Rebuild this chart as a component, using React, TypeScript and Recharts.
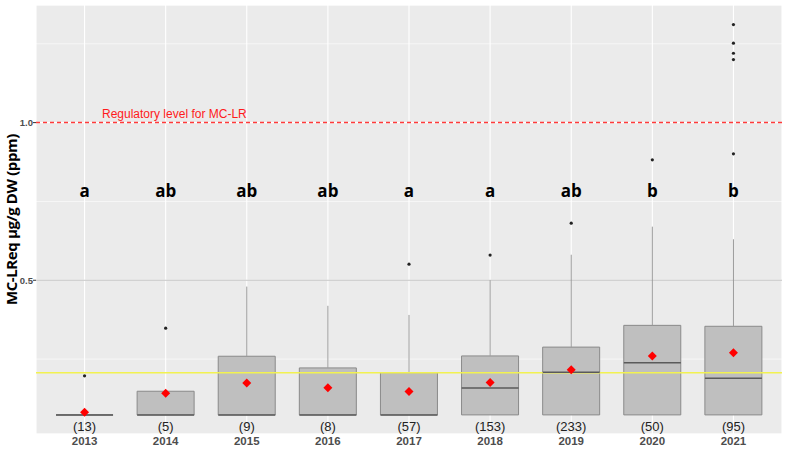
import React from "react";
import {
  ComposedChart,
  Bar,
  Scatter,
  ErrorBar,
  XAxis,
  YAxis,
  CartesianGrid,
  ReferenceLine,
} from "recharts";

const years = ["2013", "2014", "2015", "2016", "2017", "2018", "2019", "2020", "2021"];
const counts = [13, 5, 9, 8, 57, 153, 233, 50, 95];
const letters = ["a", "ab", "ab", "ab", "a", "a", "ab", "b", "b"];
const q1 = [0.073, 0.073, 0.073, 0.073, 0.073, 0.073, 0.073, 0.073, 0.073];
const medians = [0.073, 0.073, 0.073, 0.073, 0.073, 0.158, 0.208, 0.238, 0.189];
const q3 = [0.073, 0.148, 0.259, 0.222, 0.207, 0.26, 0.288, 0.357, 0.354];
const whiskerHigh = [0.073, 0.148, 0.48, 0.419, 0.39, 0.5, 0.581, 0.67, 0.63];
const means = [0.081, 0.1415, 0.174, 0.159, 0.147, 0.176, 0.216, 0.26, 0.27];

const outlierYears = ["2013", "2014", "2017", "2018", "2019", "2020", "2021", "2021", "2021", "2021", "2021"];
const outlierValues = [0.197, 0.348, 0.551, 0.58, 0.681, 0.882, 0.901, 1.2, 1.22, 1.252, 1.311];

const yDomain = [0.0124, 1.373];
const yTicks = [0.5, 1.0];
const minorTicks = [0.25, 0.75, 1.25];
const regulatoryLevel = 1.0;
const referenceLevel = 0.207;
const letterY = 0.786;
const countY = 0.035;

const BOX_W = 57;

const rows = years.map((year, i) => ({
  year,
  n: `(${counts[i]})`,
  letter: letters[i],
  q1: q1[i],
  med: medians[i],
  q3: q3[i],
  hi: whiskerHigh[i],
  mean: means[i],
  letterY,
  countY,
}));

const outliers = outlierYears.map((year, i) => ({ year, value: outlierValues[i] }));

const BoxShape = (props: any) => {
  const { x, y, width, height } = props;
  const h = Math.max(height || 0, 0);
  return (
    <path
      d={`M${x},${y}h${width}v${h}h${-width}Z`}
      fill="#bfbfbf"
      stroke="#8a8a8a"
      strokeWidth={1}
    />
  );
};

const MedianShape = (props: any) => (
  <line x1={props.cx - BOX_W / 2} x2={props.cx + BOX_W / 2} y1={props.cy} y2={props.cy} stroke="#5a5a5a" strokeWidth={1.5} />
);

const MeanShape = (props: any) => {
  const { cx, cy } = props;
  const s = 4.5;
  return <path d={`M${cx},${cy - s}L${cx + s},${cy}L${cx},${cy + s}L${cx - s},${cy}Z`} fill="#ff0000" />;
};

const OutlierShape = (props: any) => <circle cx={props.cx} cy={props.cy} r={1.6} fill="#222" />;

const LetterShape = (props: any) => (
  <text x={props.cx} y={props.cy} textAnchor="middle" dominantBaseline="central" fontFamily="Open Sans" fontWeight={700} fontSize={17} fill="#000">
    {props.payload.letter}
  </text>
);

const CountShape = (props: any) => (
  <text x={props.cx} y={props.cy} textAnchor="middle" dominantBaseline="central" fontFamily="Liberation Sans" fontSize={13} fill="#222">
    {props.payload.n}
  </text>
);

const Nothing = () => null;

export default function App() {
  return (
    <div style={{ position: "absolute", left: 0, top: 0, background: "#fff" }}>
      <ComposedChart width={786} height={452} data={rows} margin={{ top: 5, right: 4, bottom: 0, left: 0 }}>
        <CartesianGrid fill="#ebebeb" stroke="#ffffff" strokeWidth={0.6} vertical={false} yAxisId="minor" />
        <CartesianGrid stroke="#ffffff" strokeWidth={1.1} fill="none" />
        <XAxis
          dataKey="year"
          allowDuplicatedCategory={false}
          padding={{ left: 8, right: 8 }}
          axisLine={false}
          tickLine={false}
          tickSize={0}
          tickMargin={3}
          height={18}
          tick={{ fontFamily: "Liberation Sans", fontWeight: 700, fontSize: 11.5, fill: "#4d4d4d" }}
        />
        <YAxis yAxisId="minor" type="number" domain={yDomain} allowDataOverflow ticks={minorTicks} hide />
        <YAxis
          type="number"
          domain={yDomain}
          allowDataOverflow
          ticks={yTicks}
          tickFormatter={(v: number) => v.toFixed(1)}
          width={36}
          axisLine={false}
          tickSize={3}
          tickMargin={0}
          tickLine={{ stroke: "#333" }}
          tick={{ fontFamily: "Liberation Sans", fontWeight: 700, fontSize: 9.5, fill: "#4d4d4d" }}
          label={{
            content: (p: any) => {
              const vb = p.viewBox;
              const cy = vb.y + vb.height / 2;
              return (
                <text x={11} y={cy} transform={`rotate(-90 11 ${cy})`} textAnchor="middle" dominantBaseline="central" fontFamily="Open Sans" fontWeight={700} fontSize={15} letterSpacing={-0.4} fill="#000">
                  MC-LReq µg/g DW (ppm)
                </text>
              );
            },
          }}
        />
        <ReferenceLine y={0.5} stroke="#c4c4c4" strokeWidth={1} />
        <Scatter dataKey="q3" shape={<Nothing />} isAnimationActive={false}>
          <ErrorBar dataKey={(d: any) => [0, d.hi - d.q3]} direction="y" width={0} stroke="#9a9a9a" strokeWidth={1} isAnimationActive={false} />
        </Scatter>
        <Bar dataKey={(d: any) => [d.q1, d.q3]} barSize={BOX_W} shape={<BoxShape />} isAnimationActive={false} />
        <Scatter dataKey="med" shape={<MedianShape />} isAnimationActive={false} />
        <Scatter data={outliers} dataKey="value" shape={<OutlierShape />} isAnimationActive={false} />
        <Scatter dataKey="mean" shape={<MeanShape />} isAnimationActive={false} />
        <Scatter dataKey="letterY" shape={<LetterShape />} isAnimationActive={false} />
        <Scatter dataKey="countY" shape={<CountShape />} isAnimationActive={false} />
        <ReferenceLine y={referenceLevel} stroke="#f2f250" strokeWidth={1.5} />
        <ReferenceLine
          y={regulatoryLevel}
          stroke="#ff3b3b"
          strokeWidth={1.5}
          strokeDasharray="4 3"
          label={{
            content: (p: any) => (
              <text x={p.viewBox.x + 66} y={p.viewBox.y - 5} fontFamily="Liberation Sans" fontSize={12} fill="#ff1a1a">
                Regulatory level for MC-LR
              </text>
            ),
          }}
        />
      </ComposedChart>
    </div>
  );
}
